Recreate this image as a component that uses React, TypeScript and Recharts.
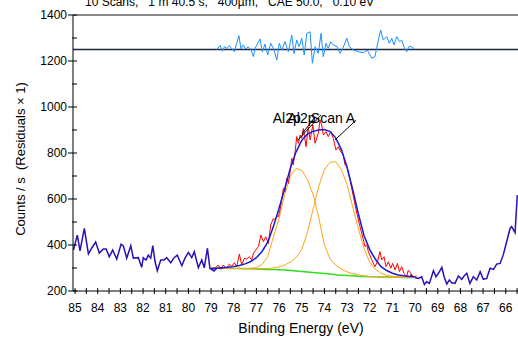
import { LineChart, Line, XAxis, YAxis, ReferenceLine, ReferenceDot } from "recharts";

// survey counts outside the fitted region (navy)
const surveyLeftEnergy = [85.07, 84.9, 84.78, 84.59, 84.41, 84.26, 84.09, 83.93, 83.75, 83.63, 83.49, 83.34, 83.16, 82.97, 82.87, 82.72, 82.54, 82.43, 82.21, 82.06, 81.99, 81.87, 81.77, 81.66, 81.57, 81.47, 81.37, 81.22, 81.07, 80.96, 80.78, 80.63, 80.49, 80.29, 80.15, 80.0, 79.85, 79.74, 79.56, 79.41, 79.3, 79.16, 79.05, 78.87, 78.75];
const surveyLeftCounts = [378, 443, 374, 472, 361, 387, 413, 365, 383, 383, 349, 378, 339, 403, 396, 343, 397, 343, 345, 303, 345, 335, 356, 343, 397, 327, 288, 335, 335, 345, 323, 345, 356, 310, 343, 368, 345, 371, 301, 335, 301, 386, 299, 287, 299];

const surveyRightEnergy = [70.22, 70.0, 69.86, 69.71, 69.59, 69.49, 69.37, 69.19, 69.08, 68.97, 68.82, 68.72, 68.6, 68.49, 68.38, 68.24, 68.09, 67.94, 67.8, 67.72, 67.58, 67.43, 67.28, 67.13, 66.99, 66.84, 66.69, 66.54, 66.4, 66.25, 66.11, 65.96, 65.81, 65.74, 65.59, 65.49];
const surveyRightCounts = [270, 259, 255, 262, 228, 240, 233, 288, 262, 277, 303, 262, 230, 248, 236, 233, 265, 251, 270, 277, 233, 262, 248, 284, 251, 255, 299, 294, 317, 320, 357, 414, 472, 480, 454, 617];

// raw counts inside the Al2p region (red)
const regionEnergy = [78.95, 78.82, 78.68, 78.57, 78.46, 78.34, 78.19, 78.09, 77.97, 77.87, 77.75, 77.65, 77.53, 77.43, 77.31, 77.21, 77.13, 77.03, 76.91, 76.8, 76.69, 76.59, 76.47, 76.37, 76.25, 76.18, 76.1, 76.03, 75.96, 75.88, 75.81, 75.74, 75.66, 75.59, 75.52, 75.44, 75.37, 75.3, 75.22, 75.15, 75.07, 75.0, 74.93, 74.81, 74.71, 74.63, 74.51, 74.41, 74.27, 74.19, 74.12, 74.05, 73.93, 73.83, 73.72, 73.61, 73.49, 73.39, 73.28, 73.17, 73.09, 73.01, 72.87, 72.72, 72.57, 72.43, 72.28, 72.21, 72.13, 72.06, 71.91, 71.77, 71.66, 71.55, 71.47, 71.37, 71.28, 71.18, 71.07, 70.99, 70.88, 70.78, 70.69, 70.59, 70.49, 70.37, 70.3, 70.19, 70.08, 69.93];
const regionCounts = [298, 299, 313, 294, 313, 300, 317, 306, 323, 306, 361, 313, 342, 338, 349, 335, 364, 378, 393, 443, 414, 436, 407, 487, 516, 509, 526, 523, 552, 596, 646, 632, 690, 668, 712, 777, 748, 799, 871, 842, 878, 864, 907, 827, 914, 857, 922, 842, 886, 943, 922, 878, 893, 871, 893, 864, 813, 827, 806, 791, 748, 741, 683, 610, 538, 480, 422, 393, 400, 371, 335, 306, 327, 371, 335, 349, 306, 327, 299, 320, 291, 320, 284, 306, 277, 262, 291, 277, 262, 265];

// fit: envelope, two Al2p components, background
const fitEnergy = [79, 78.75, 78.5, 78.25, 78, 77.75, 77.5, 77.25, 77, 76.75, 76.5, 76.25, 76, 75.75, 75.5, 75.25, 75, 74.75, 74.5, 74.25, 74, 73.75, 73.5, 73.25, 73, 72.75, 72.5, 72.25, 72, 71.75, 71.5, 71.25, 71, 70.75, 70.5, 70.25, 70];
const envelope = [297, 299, 301, 303, 306, 311, 318, 328, 345, 372, 412, 480, 560, 645, 735, 805, 855, 882, 894, 900, 902, 893, 866, 815, 738, 640, 535, 440, 380, 338, 306, 289, 277, 270, 266, 263, 262];
const peakA = [300, 300, 299, 299, 298, 298, 298, 299, 302, 315, 350, 435, 515, 620, 700, 732, 725, 685, 620, 520, 400, 340, 312, 295, 283, 275, 270, 266, 263, 262, 261, 260, 260, 259, 259, 259, 259];
const peakB = [300, 299, 299, 298, 298, 297, 297, 297, 297, 297, 298, 300, 305, 313, 326, 345, 380, 455, 555, 655, 728, 760, 762, 728, 662, 565, 470, 385, 325, 294, 277, 268, 264, 262, 260, 259, 259];
const background = [300, 300, 299, 299, 298, 298, 297, 297, 296, 295, 294, 293, 292, 291, 289, 287, 285, 283, 280, 278, 276, 274, 271, 269, 267, 266, 264, 263, 262, 262, 261, 261, 260, 260, 259, 259, 259];

// residuals, offset to 1250
const residualEnergy = [78.75, 78.6, 78.5, 78.41, 78.31, 78.21, 78.09, 77.97, 77.87, 77.77, 77.68, 77.58, 77.47, 77.36, 77.24, 77.13, 77.06, 76.96, 76.84, 76.74, 76.62, 76.5, 76.37, 76.22, 76.1, 75.99, 75.88, 75.74, 75.59, 75.44, 75.34, 75.22, 75.11, 75.0, 74.89, 74.78, 74.63, 74.53, 74.41, 74.27, 74.15, 74.05, 73.93, 73.83, 73.72, 73.61, 73.43, 73.31, 73.19, 73.01, 72.9, 72.72, 72.5, 72.28, 72.11, 71.91, 71.77, 71.62, 71.52, 71.4, 71.25, 71.14, 71.03, 70.93, 70.81, 70.69, 70.59, 70.49, 70.37, 70.25, 70.15, 70.0];
const residualCounts = [1250, 1267, 1243, 1262, 1255, 1267, 1255, 1240, 1277, 1310, 1252, 1270, 1252, 1262, 1248, 1219, 1255, 1273, 1296, 1240, 1273, 1226, 1277, 1248, 1204, 1277, 1248, 1284, 1240, 1313, 1233, 1291, 1262, 1299, 1226, 1320, 1327, 1190, 1262, 1233, 1320, 1219, 1277, 1255, 1284, 1270, 1262, 1233, 1255, 1299, 1262, 1248, 1240, 1236, 1248, 1212, 1219, 1291, 1335, 1291, 1306, 1277, 1299, 1270, 1306, 1284, 1291, 1262, 1240, 1265, 1262, 1250];

const peakLabels = ["Al2p", "Al2p", "Scan A"];
const labelEnergy = [76.28, 75.63, 74.6];
const labelCounts = [930, 930, 930];

const leaderFromEnergy = [75.16, 74.99, 73.53];
const leaderFromCounts = [857, 883, 857];
const leaderToEnergy = [74.15, 74.41, 72.6];
const leaderToCounts = [965, 957, 943];

const xTicks = [85, 84.5, 84, 83.5, 83, 82.5, 82, 81.5, 81, 80.5, 80, 79.5, 79, 78.5, 78, 77.5, 77, 76.5, 76, 75.5, 75, 74.5, 74, 73.5, 73, 72.5, 72, 71.5, 71, 70.5, 70, 69.5, 69, 68.5, 68, 67.5, 67, 66.5, 66, 65.5];
const yTicks = [200, 300, 400, 500, 600, 700, 800, 900, 1000, 1100, 1200, 1300, 1400];

const zip = (xs: number[], ys: number[]) => xs.map((e, i) => ({ e, v: ys[i] }));

const font = "'Liberation Sans', Arial, sans-serif";

function XTick(props: any) {
  const { x, y, payload } = props;
  const major = Number.isInteger(payload.value);
  return (
    <g>
      <line x1={x} x2={x} y1={y - 3} y2={y + 3} stroke="#000" />
      {major && (
        <text x={x} y={y + 21} textAnchor="middle" fontSize={12} fontFamily={font} fill="#000">
          {payload.value}
        </text>
      )}
    </g>
  );
}

function YTick(props: any) {
  const { x, y, payload } = props;
  const major = payload.value % 200 === 0;
  return (
    <g>
      <line x1={major ? x - 5 : x - 1} x2={x + 4} y1={y} y2={y} stroke="#000" />
      {major && (
        <text x={x - 6} y={y + 4} textAnchor="end" fontSize={12} fontFamily={font} fill="#000">
          {payload.value}
        </text>
      )}
    </g>
  );
}

export default function App() {
  const line = { dataKey: "v", dot: false, isAnimationActive: false, type: "linear" as const };
  return (
    <div style={{ position: "absolute", left: 0, top: 0, width: 518, height: 340, background: "#fff", overflow: "hidden", fontFamily: font }}>
      <div style={{ position: "absolute", left: 85, top: -5, fontSize: 12, whiteSpace: "pre", color: "#000" }}>
        {"10 Scans,   1 m 40.5 s,   400µm,   CAE 50.0,   0.10 eV"}
      </div>
      <LineChart width={518} height={340} margin={{ top: 15, right: 0, left: 0, bottom: 0 }}>
        <XAxis
          type="number"
          dataKey="e"
          domain={[65.46, 85.09]}
          reversed
          allowDataOverflow
          ticks={xTicks}
          interval={0}
          tick={<XTick />}
          tickLine={false}
          tickSize={0}
          tickMargin={0}
          height={49}
          axisLine={{ stroke: "#000" }}
        />
        <YAxis
          type="number"
          domain={[200, 1400]}
          allowDataOverflow
          ticks={yTicks}
          interval={0}
          tick={<YTick />}
          tickLine={false}
          tickSize={0}
          tickMargin={0}
          width={73}
          axisLine={{ stroke: "#000" }}
        />
        <ReferenceLine y={1400} stroke="#8a8a8a" strokeWidth={2} />
        <ReferenceLine y={1250} stroke="#1d2740" strokeWidth={1.5} />
        <Line {...line} data={zip(surveyLeftEnergy, surveyLeftCounts)} stroke="#2b10b4" strokeWidth={1.5} />
        <Line {...line} data={zip(surveyRightEnergy, surveyRightCounts)} stroke="#2b10b4" strokeWidth={1.5} />
        <Line {...line} data={zip(fitEnergy, background)} stroke="#2ee01c" strokeWidth={1.5} />
        <Line {...line} data={zip(fitEnergy, peakA)} stroke="#ffa31a" strokeWidth={1} />
        <Line {...line} data={zip(fitEnergy, peakB)} stroke="#ffa31a" strokeWidth={1} />
        <Line {...line} data={zip(regionEnergy, regionCounts)} stroke="#ff0000" strokeWidth={1} />
        <Line {...line} data={zip(fitEnergy, envelope)} stroke="#1a1ad6" strokeWidth={1.5} />
        <Line {...line} data={zip(residualEnergy, residualCounts)} stroke="#1e90ff" strokeWidth={1} />
        {leaderFromEnergy.map((e, i) => (
          <ReferenceLine
            key={"l" + i}
            segment={[
              { x: e, y: leaderFromCounts[i] },
              { x: leaderToEnergy[i], y: leaderToCounts[i] },
            ]}
            stroke="#000"
            strokeWidth={1}
          />
        ))}
        {peakLabels.map((t, i) => (
          <ReferenceDot
            key={"t" + i}
            x={labelEnergy[i]}
            y={labelCounts[i]}
            r={0}
            shape={(p: any) => (
              <text x={p.cx} y={p.cy} fontSize={14} fontFamily={font} fill="#000">
                {t}
              </text>
            )}
          />
        ))}
      </LineChart>
      <div style={{ position: "absolute", left: 236, top: 320, width: 130, textAlign: "center", fontSize: 14, whiteSpace: "nowrap", color: "#000" }}>
        Binding Energy (eV)
      </div>
      <div
        style={{
          position: "absolute",
          left: 20,
          top: 159,
          fontSize: 13,
          whiteSpace: "pre",
          color: "#000",
          transform: "translate(-50%, -50%) rotate(-90deg)",
        }}
      >
        {"Counts / s  (Residuals × 1)"}
      </div>
    </div>
  );
}
